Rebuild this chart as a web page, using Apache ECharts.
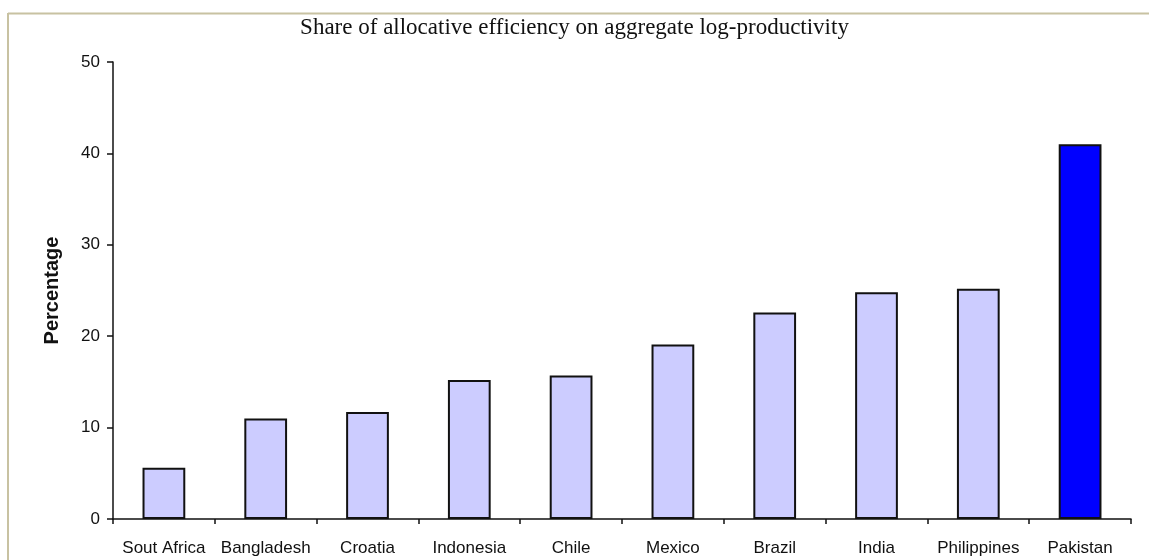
<!DOCTYPE html>
<html>
<head>
<meta charset="utf-8">
<script src="https://cdn.jsdelivr.net/npm/echarts@6/dist/echarts.min.js"></script>
<style>
html,body{margin:0;padding:0;background:#fff;}
#c{width:1149px;height:560px;}
</style>
</head>
<body>
<div id="c"></div>
<script>
const categories = ["Sout Africa","Bangladesh","Croatia","Indonesia","Chile","Mexico","Brazil","India","Philippines","Pakistan"];
const values = [5.6, 11.0, 11.7, 15.2, 15.7, 19.1, 22.6, 24.8, 25.2, 41.0];
const highlighted = ["Pakistan"];
const yTicks = [0, 10, 20, 30, 40, 50];

const chart = echarts.init(document.getElementById('c'));
chart.setOption({
  animation: false,
  backgroundColor: '#fff',
  title: {
    text: 'Share of allocative efficiency on aggregate log-productivity',
    left: 'center',
    top: 11,
    textStyle: {fontFamily: 'Liberation Serif', fontWeight: 'normal', fontSize: 23, color: '#111'}
  },
  graphic: [
    {type: 'line', shape: {x1: 8, y1: 13.5, x2: 1149, y2: 13.5}, style: {stroke: '#c8c2a2', lineWidth: 2}, z: -1},
    {type: 'line', shape: {x1: 8, y1: 13, x2: 8, y2: 560}, style: {stroke: '#c8c2a2', lineWidth: 2}, z: -1}
  ],
  grid: {left: 113, right: 18, top: 62, bottom: 41, containLabel: false},
  xAxis: {
    type: 'category',
    data: categories,
    axisLine: {lineStyle: {color: '#111', width: 1.5}},
    axisTick: {show: true, alignWithLabel: false, length: 5, lineStyle: {color: '#111', width: 1.5}},
    axisLabel: {fontFamily: 'Liberation Sans', fontSize: 17, color: '#111', margin: 21, interval: 0}
  },
  yAxis: {
    type: 'value',
    min: 0, max: 50, interval: 10,
    name: 'Percentage',
    nameLocation: 'middle',
    nameGap: 51,
    nameRotate: 90,
    nameTextStyle: {fontFamily: 'Liberation Sans', fontWeight: 'bold', fontSize: 20, color: '#111'},
    axisLine: {show: true, lineStyle: {color: '#111', width: 1.5}},
    axisTick: {show: true, length: 6, lineStyle: {color: '#111', width: 1.5}},
    splitLine: {show: false},
    axisLabel: {fontFamily: 'Liberation Sans', fontSize: 17, color: '#111', margin: 13,
      formatter: v => yTicks.includes(v) ? String(v) : ''}
  },
  series: [{
    type: 'bar',
    barWidth: '42%',
    data: values.map((v, i) => ({
      value: v,
      itemStyle: {color: highlighted.includes(categories[i]) ? '#0000ff' : '#ccccff'}
    })),
    itemStyle: {borderColor: '#111', borderWidth: 2}
  }]
});
</script>
</body>
</html>
